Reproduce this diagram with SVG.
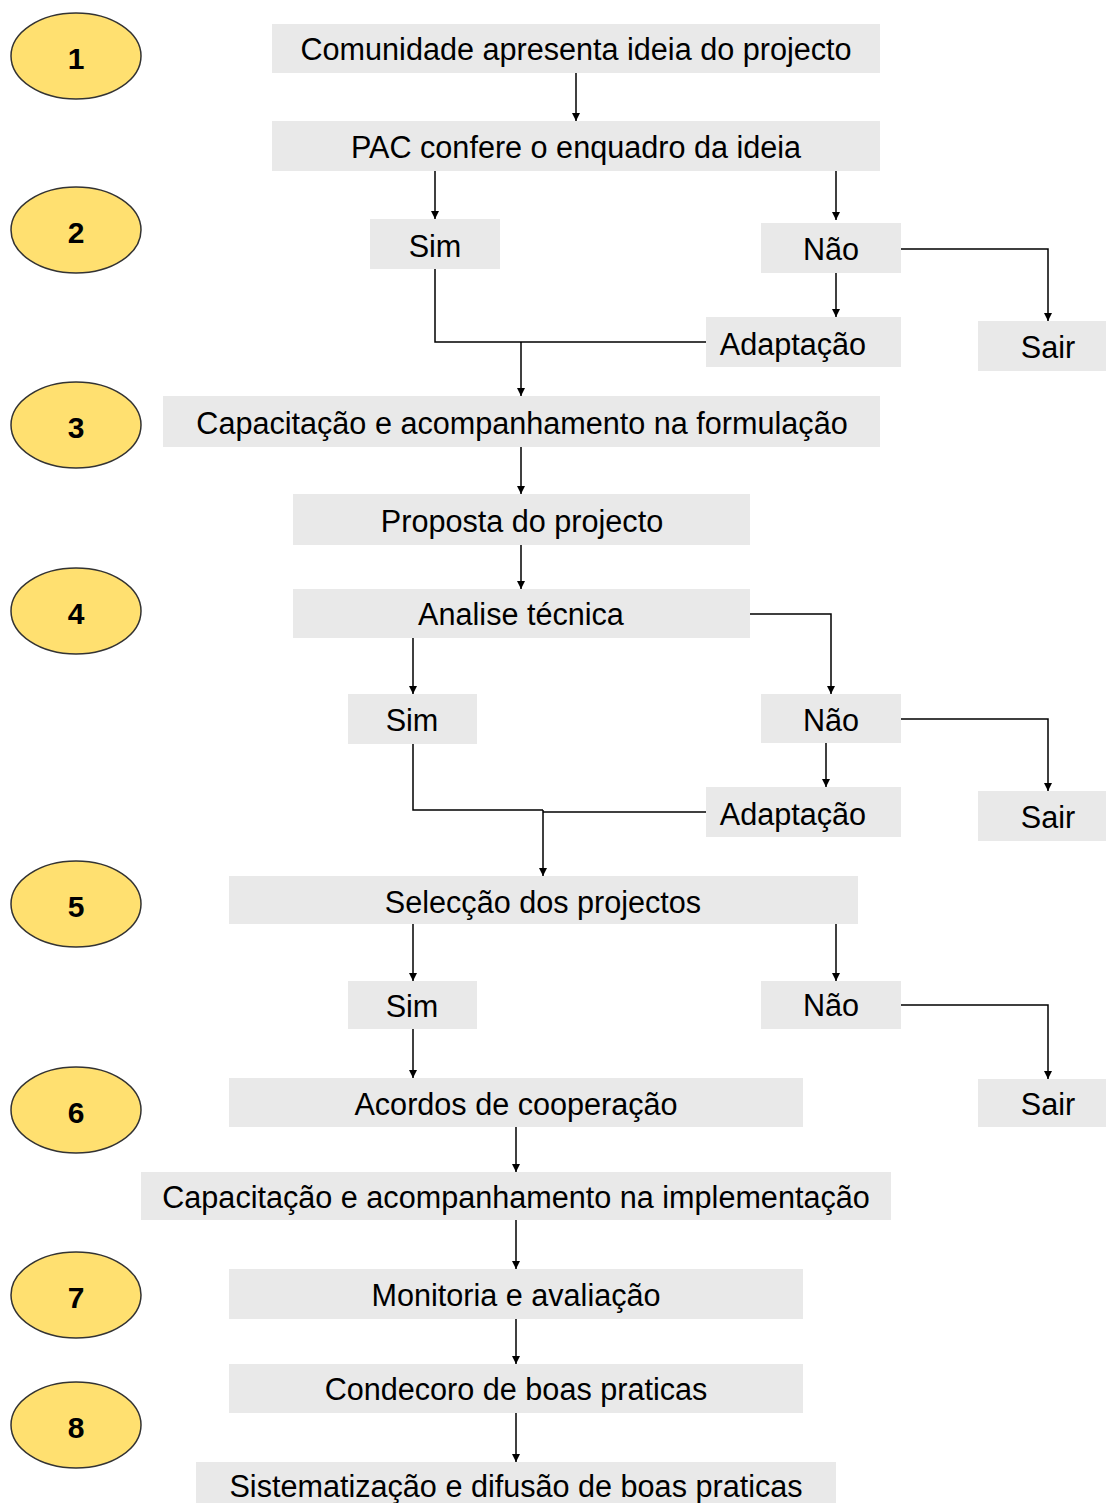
<svg xmlns="http://www.w3.org/2000/svg" width="1106" height="1503" viewBox="0 0 1106 1503">
<style>
.b{fill:#e9e9e9}
.t{font-family:"Liberation Sans",Arial,sans-serif;font-size:30.6px;fill:#000;text-anchor:middle;dominant-baseline:central}
.e{fill:#ffe070;stroke:#333;stroke-width:1.5}
.n{font-family:"Liberation Sans",Arial,sans-serif;font-size:30px;font-weight:bold;fill:#000;text-anchor:middle;dominant-baseline:central}
.c{fill:none;stroke:#000;stroke-width:1.5}
</style>
<defs>
<marker id="ah" viewBox="0 0 10 10" refX="10" refY="5" markerWidth="8" markerHeight="8" markerUnits="userSpaceOnUse" orient="auto">
<path d="M0,0 L10,5 L0,10 z" fill="#000"/>
</marker>
</defs>
<g id="steps">
<g id="s1"><ellipse class="e" cx="76" cy="56" rx="65" ry="43"/><text class="n" x="76" y="58">1</text></g>
<g id="s2"><ellipse class="e" cx="76" cy="230" rx="65" ry="43"/><text class="n" x="76" y="232">2</text></g>
<g id="s3"><ellipse class="e" cx="76" cy="425" rx="65" ry="43"/><text class="n" x="76" y="427">3</text></g>
<g id="s4"><ellipse class="e" cx="76" cy="611" rx="65" ry="43"/><text class="n" x="76" y="613">4</text></g>
<g id="s5"><ellipse class="e" cx="76" cy="904" rx="65" ry="43"/><text class="n" x="76" y="906">5</text></g>
<g id="s6"><ellipse class="e" cx="76" cy="1110" rx="65" ry="43"/><text class="n" x="76" y="1112">6</text></g>
<g id="s7"><ellipse class="e" cx="76" cy="1295" rx="65" ry="43"/><text class="n" x="76" y="1297">7</text></g>
<g id="s8"><ellipse class="e" cx="76" cy="1425" rx="65" ry="43"/><text class="n" x="76" y="1427">8</text></g>
</g>
<g id="connectors">
<path class="c" d="M576,73 V121" marker-end="url(#ah)"/>
<path class="c" d="M435,171 V219" marker-end="url(#ah)"/>
<path class="c" d="M836,171 V220" marker-end="url(#ah)"/>
<path class="c" d="M901,249 H1048 V321" marker-end="url(#ah)"/>
<path class="c" d="M836,273 V317" marker-end="url(#ah)"/>
<path class="c" d="M435,269 V342 H706"/>
<path class="c" d="M521,342 V396" marker-end="url(#ah)"/>
<path class="c" d="M521,447 V494" marker-end="url(#ah)"/>
<path class="c" d="M521,545 V589" marker-end="url(#ah)"/>
<path class="c" d="M750,614 H831 V694" marker-end="url(#ah)"/>
<path class="c" d="M413,638 V694" marker-end="url(#ah)"/>
<path class="c" d="M901,719 H1048 V791" marker-end="url(#ah)"/>
<path class="c" d="M826,743 V787" marker-end="url(#ah)"/>
<path class="c" d="M413,744 V810 H543"/>
<path class="c" d="M706,812 H543"/>
<path class="c" d="M543,810 V876" marker-end="url(#ah)"/>
<path class="c" d="M413,924 V981" marker-end="url(#ah)"/>
<path class="c" d="M836,924 V981" marker-end="url(#ah)"/>
<path class="c" d="M901,1005 H1048 V1079" marker-end="url(#ah)"/>
<path class="c" d="M413,1029 V1078" marker-end="url(#ah)"/>
<path class="c" d="M516,1127 V1172" marker-end="url(#ah)"/>
<path class="c" d="M516,1220 V1269" marker-end="url(#ah)"/>
<path class="c" d="M516,1319 V1364" marker-end="url(#ah)"/>
<path class="c" d="M516,1413 V1462" marker-end="url(#ah)"/>
</g>
<g id="n1"><rect class="b" x="272" y="24" width="608" height="49"/><text class="t" x="576" y="49">Comunidade apresenta ideia do projecto</text></g>
<g id="n2"><rect class="b" x="272" y="121" width="608" height="50"/><text class="t" x="576" y="147">PAC confere o enquadro da ideia</text></g>
<g id="n3"><rect class="b" x="370" y="219" width="130" height="50"/><text class="t" x="435" y="246">Sim</text></g>
<g id="n4"><rect class="b" x="761" y="223" width="140" height="50"/><text class="t" x="831" y="249">Não</text></g>
<g id="n5"><rect class="b" x="706" y="317" width="195" height="50"/><text class="t" x="793" y="344">Adaptação</text></g>
<g id="n6"><rect class="b" x="978" y="321" width="128" height="50"/><text class="t" x="1048" y="347">Sair</text></g>
<g id="n7"><rect class="b" x="163" y="396" width="717" height="51"/><text class="t" x="522" y="423">Capacitação e acompanhamento na formulação</text></g>
<g id="n8"><rect class="b" x="293" y="494" width="457" height="51"/><text class="t" x="522" y="521">Proposta do projecto</text></g>
<g id="n9"><rect class="b" x="293" y="589" width="457" height="49"/><text class="t" x="521" y="614">Analise técnica</text></g>
<g id="n10"><rect class="b" x="348" y="694" width="129" height="50"/><text class="t" x="412" y="720">Sim</text></g>
<g id="n11"><rect class="b" x="761" y="694" width="140" height="49"/><text class="t" x="831" y="720">Não</text></g>
<g id="n12"><rect class="b" x="706" y="787" width="195" height="50"/><text class="t" x="793" y="814">Adaptação</text></g>
<g id="n13"><rect class="b" x="978" y="791" width="128" height="50"/><text class="t" x="1048" y="817">Sair</text></g>
<g id="n14"><rect class="b" x="229" y="876" width="629" height="48"/><text class="t" x="543" y="902">Selecção dos projectos</text></g>
<g id="n15"><rect class="b" x="348" y="981" width="129" height="48"/><text class="t" x="412" y="1006">Sim</text></g>
<g id="n16"><rect class="b" x="761" y="981" width="140" height="48"/><text class="t" x="831" y="1005">Não</text></g>
<g id="n17"><rect class="b" x="229" y="1078" width="574" height="49"/><text class="t" x="516" y="1104">Acordos de cooperação</text></g>
<g id="n18"><rect class="b" x="978" y="1079" width="128" height="48"/><text class="t" x="1048" y="1104">Sair</text></g>
<g id="n19"><rect class="b" x="141" y="1172" width="750" height="48"/><text class="t" x="516" y="1197">Capacitação e acompanhamento na implementação</text></g>
<g id="n20"><rect class="b" x="229" y="1269" width="574" height="50"/><text class="t" x="516" y="1295">Monitoria e avaliação</text></g>
<g id="n21"><rect class="b" x="229" y="1364" width="574" height="49"/><text class="t" x="516" y="1389">Condecoro de boas praticas</text></g>
<g id="n22"><rect class="b" x="196" y="1462" width="640" height="41"/><text class="t" x="516" y="1486">Sistematização e difusão de boas praticas</text></g>
</svg>
